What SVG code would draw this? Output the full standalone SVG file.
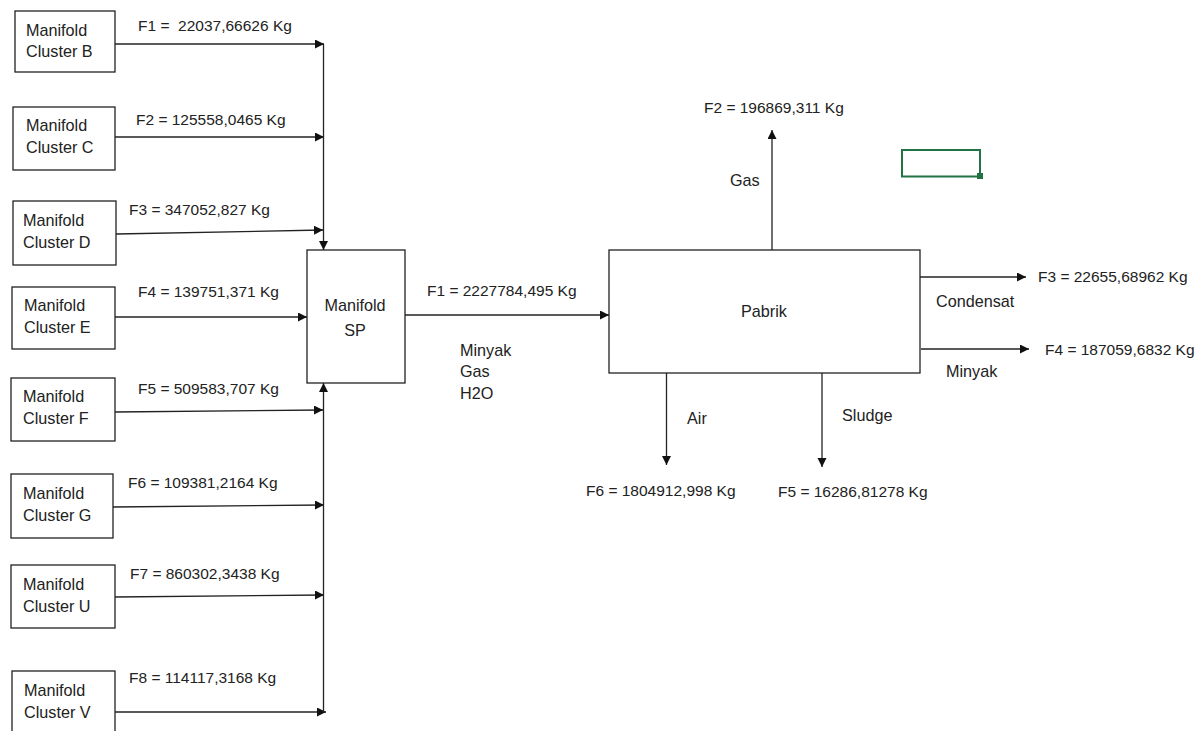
<svg xmlns="http://www.w3.org/2000/svg" width="1203" height="731" viewBox="0 0 1203 731">
<defs>
<marker id="ah" markerUnits="userSpaceOnUse" markerWidth="11" markerHeight="10" refX="9" refY="4.5" orient="auto">
<path d="M0,0 L9,4.5 L0,9 Z" fill="#111"/>
</marker>
<style>
.box{fill:#fff;stroke:#222;stroke-width:1.3}
.t{font-family:"Liberation Sans",Arial,sans-serif;font-size:15.5px;fill:#222}
.b{font-size:16.2px}
.c{stroke:#222;stroke-width:1.3;fill:none;marker-end:url(#ah)}
</style>
</defs>
<rect width="1203" height="731" fill="#fff"/>
<g id="connectors">
<line class="c" x1="115" y1="44" x2="324" y2="44"/>
<line class="c" x1="115" y1="137" x2="324" y2="137"/>
<line class="c" x1="116" y1="234" x2="323" y2="230"/>
<line class="c" x1="115" y1="317" x2="307" y2="317"/>
<line class="c" x1="115" y1="412" x2="323" y2="410"/>
<line class="c" x1="113" y1="507" x2="324" y2="505"/>
<line class="c" x1="115" y1="597" x2="324" y2="595"/>
<line class="c" x1="115" y1="712" x2="326" y2="712"/>
<line class="c" x1="323.5" y1="44" x2="323.5" y2="250"/>
<line class="c" x1="323.5" y1="712" x2="323.5" y2="383"/>
<line class="c" x1="405" y1="315" x2="609" y2="315"/>
<line class="c" x1="772" y1="250" x2="772" y2="130"/>
<line class="c" x1="920" y1="277" x2="1026" y2="277"/>
<line class="c" x1="921" y1="349" x2="1029" y2="349"/>
<line class="c" x1="666.5" y1="373" x2="666.5" y2="465"/>
<line class="c" x1="822" y1="373" x2="822" y2="467"/>
</g>
<g id="labels">
<text class="t" x="138" y="30.5">F1 =&#160; 22037,66626 Kg</text>
<text class="t" x="136" y="125">F2 = 125558,0465 Kg</text>
<text class="t" x="129" y="214.5">F3 = 347052,827 Kg</text>
<text class="t" x="138" y="296.5">F4 = 139751,371 Kg</text>
<text class="t" x="138" y="394">F5 = 509583,707 Kg</text>
<text class="t" x="128" y="488">F6 = 109381,2164 Kg</text>
<text class="t" x="130" y="579">F7 = 860302,3438 Kg</text>
<text class="t" x="129" y="683">F8 = 114117,3168 Kg</text>
<text class="t" x="427" y="295.5">F1 = 2227784,495 Kg</text>
<text class="t b" x="460" y="355.5">Minyak</text>
<text class="t b" x="460" y="377">Gas</text>
<text class="t b" x="460" y="399">H2O</text>
<text class="t" x="704" y="112.5">F2 = 196869,311 Kg</text>
<text class="t b" x="730" y="185.5">Gas</text>
<text class="t" x="1038" y="282">F3 = 22655,68962 Kg</text>
<text class="t b" x="936" y="307">Condensat</text>
<text class="t" x="1045" y="354.5">F4 = 187059,6832 Kg</text>
<text class="t b" x="946" y="376.5">Minyak</text>
<text class="t b" x="687" y="423.5">Air</text>
<text class="t b" x="842" y="420.5">Sludge</text>
<text class="t" x="586" y="495.5">F6 = 1804912,998 Kg</text>
<text class="t" x="778" y="497">F5 = 16286,81278 Kg</text>
</g>
<g id="cluster-b"><rect class="box" x="15" y="11" width="100" height="61"/><text class="t b" x="26" y="35.5">Manifold</text><text class="t b" x="26" y="57">Cluster B</text></g>
<g id="cluster-c"><rect class="box" x="13" y="107" width="102" height="63"/><text class="t b" x="26" y="130.5">Manifold</text><text class="t b" x="26" y="153">Cluster C</text></g>
<g id="cluster-d"><rect class="box" x="13" y="201" width="103" height="64"/><text class="t b" x="23" y="225.5">Manifold</text><text class="t b" x="23" y="247.5">Cluster D</text></g>
<g id="cluster-e"><rect class="box" x="12" y="287" width="103" height="62"/><text class="t b" x="24" y="310.5">Manifold</text><text class="t b" x="24" y="332.5">Cluster E</text></g>
<g id="cluster-f"><rect class="box" x="11" y="378" width="104" height="63"/><text class="t b" x="23" y="401.5">Manifold</text><text class="t b" x="23" y="423.5">Cluster F</text></g>
<g id="cluster-g"><rect class="box" x="11" y="474" width="102" height="64"/><text class="t b" x="23" y="498.5">Manifold</text><text class="t b" x="23" y="521">Cluster G</text></g>
<g id="cluster-u"><rect class="box" x="11" y="565" width="104" height="63"/><text class="t b" x="23" y="589.5">Manifold</text><text class="t b" x="23" y="612">Cluster U</text></g>
<g id="cluster-v"><rect class="box" x="12" y="671" width="103" height="70"/><text class="t b" x="24" y="695.5">Manifold</text><text class="t b" x="24" y="717.5">Cluster V</text></g>
<g id="manifold-sp"><rect class="box" x="307" y="250" width="98" height="133"/><text class="t b" x="355" y="311" text-anchor="middle">Manifold</text><text class="t b" x="355" y="335.5" text-anchor="middle">SP</text></g>
<g id="pabrik"><rect class="box" x="609" y="250" width="311" height="123"/><text class="t b" x="741" y="316.5">Pabrik</text></g>
<g id="cell-selection"><rect x="902" y="150" width="78" height="26.5" fill="none" stroke="#217346" stroke-width="2"/><rect x="977" y="173" width="6" height="6" fill="#217346"/></g>
</svg>
